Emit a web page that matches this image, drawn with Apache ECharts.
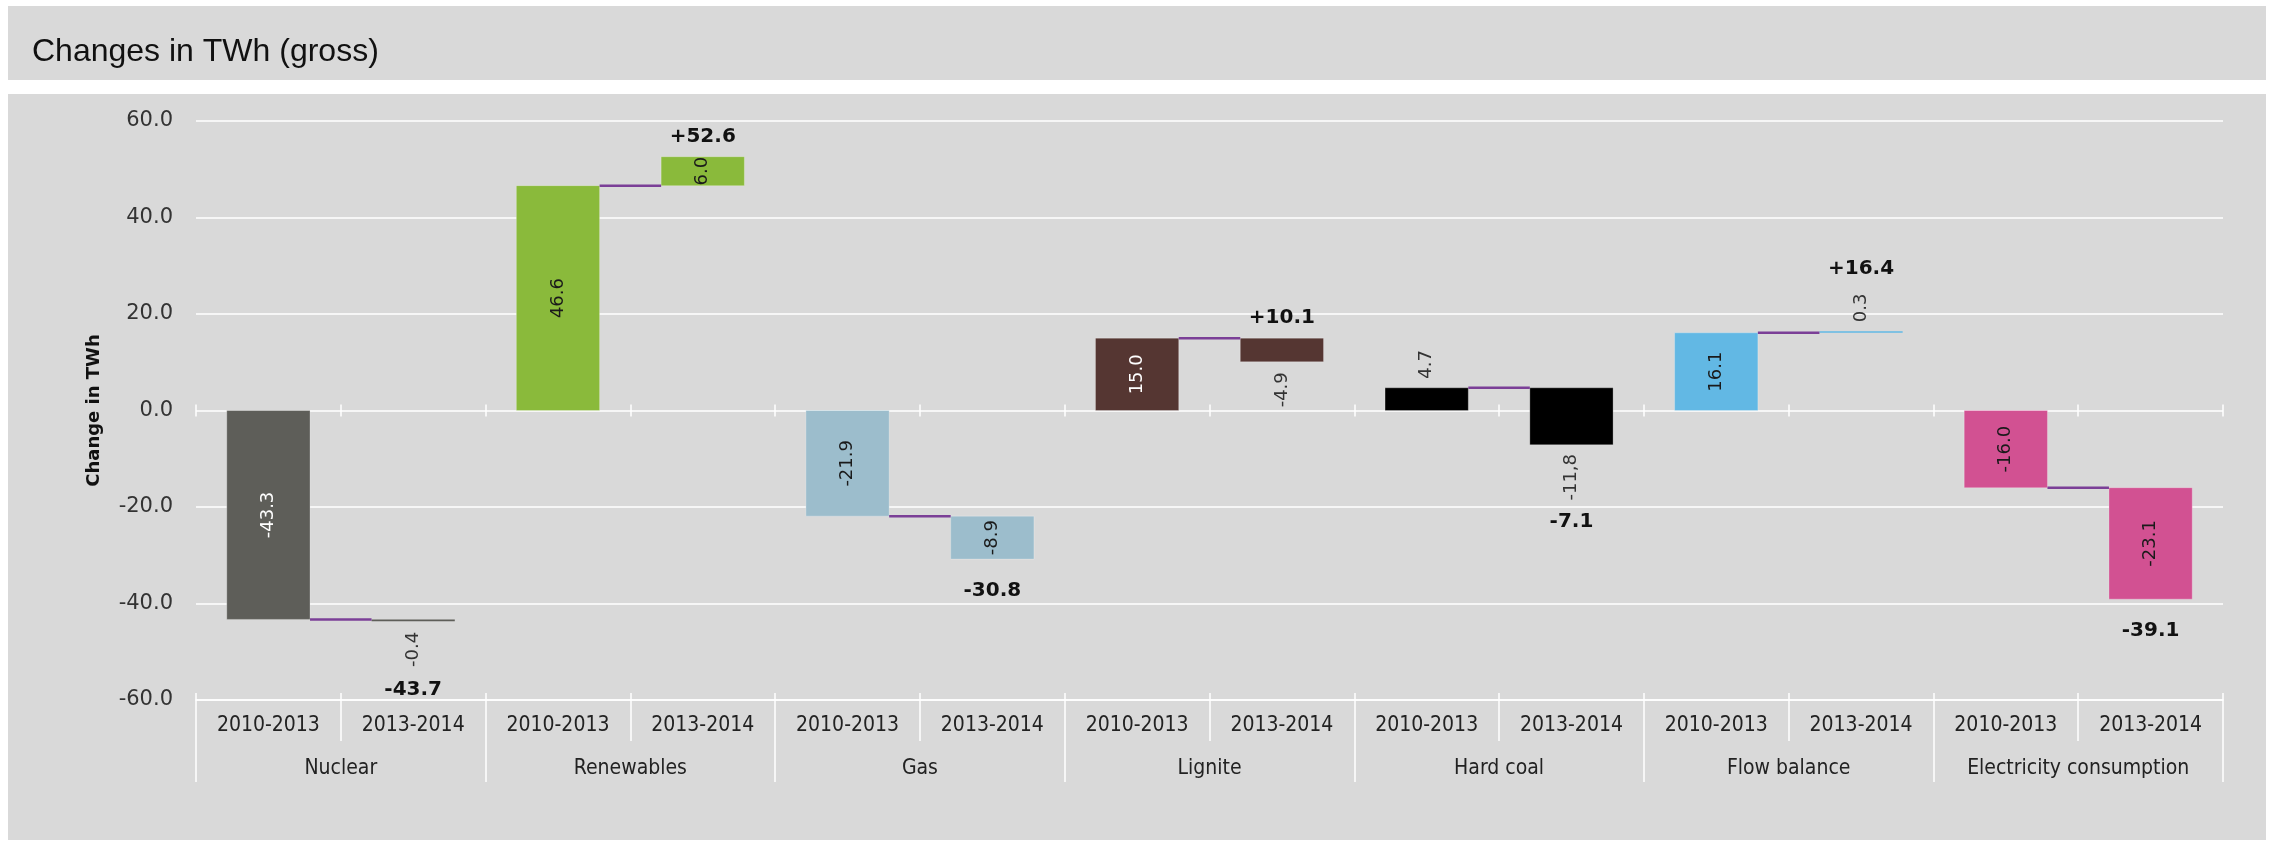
<!DOCTYPE html>
<html>
<head>
<meta charset="utf-8">
<title>Changes in TWh (gross)</title>
<script src="https://cdn.jsdelivr.net/npm/echarts@6/dist/echarts.min.js"></script>
<style>
  html, body { margin: 0; padding: 0; background: #fff; }
  #chart { width: 2277px; height: 846px; }
</style>
</head>
<body>
<div id="chart"></div>
<script>
var groups = ['Nuclear', 'Renewables', 'Gas', 'Lignite', 'Hard coal', 'Flow balance', 'Electricity consumption'];
var periods = ['2010-2013', '2013-2014'];
var change2010_2013 = [-43.3, 46.6, -21.9, 15.0, 4.7, 16.1, -16.0];
var change2013_2014 = [-0.4, 6.0, -8.9, -4.9, -11.8, 0.3, -23.1];
// labels as printed on the 2013-2014 bars (one uses a decimal comma)
var text2013_2014 = ['-0.4', '6.0', '-8.9', '-4.9', '-11,8', '0.3', '-23.1'];
var groupColors = ['#5e5e59', '#8aba3b', '#9cbdcc', '#553632', '#000000', '#62b8e4', '#d25192'];

var yMin = -60, yMax = 60, yStep = 20;

var subLabels = [];
var items = [];
groups.forEach(function (g, i) {
    var first = change2010_2013[i];
    var second = first + change2013_2014[i];
    subLabels.push(periods[0], periods[1]);
    items.push([i * 2, 0, first, i, 0]);
    items.push([i * 2 + 1, first, Math.round(second * 10) / 10, i, 1]);
});

function isDark(hex) {
    var r = parseInt(hex.substr(1, 2), 16),
        g = parseInt(hex.substr(3, 2), 16),
        b = parseInt(hex.substr(5, 2), 16);
    return (0.299 * r + 0.587 * g + 0.114 * b) < 110;
}

function renderWaterfall(params, api) {
    var idx = api.value(0),
        from = api.value(1),
        to = api.value(2),
        g = api.value(3),
        step = api.value(4);
    var a = api.coord([idx, from]),
        b = api.coord([idx, to]);
    var catW = api.size([1, 0])[0];
    var bw = catW * 0.575;
    var x = a[0] - bw / 2;
    var top = Math.min(a[1], b[1]),
        bottom = Math.max(a[1], b[1]);
    var h = Math.max(bottom - top, 1.5);
    var color = groupColors[g];
    var kids = [];

    kids.push({
        type: 'rect',
        shape: { x: x, y: top, width: bw, height: h },
        style: h > 4 ? { fill: color, stroke: 'rgba(255,255,255,0.25)', lineWidth: 1 } : { fill: color }
    });

    if (step === 1) {
        kids.push({
            type: 'line',
            shape: { x1: a[0] - catW + bw / 2, y1: a[1], x2: x, y2: a[1] },
            style: { stroke: '#7b3f97', lineWidth: 2.5 }
        });
    }

    // value label, rotated
    var txt = step === 0 ? change2010_2013[g].toFixed(1) : text2013_2014[g];
    var len = txt.length * 9;
    var inside = color !== '#000000' && (bottom - top) >= 26;
    var ly, fill = '#333';
    if (inside) {
        ly = (top + bottom) / 2;
        fill = isDark(color) ? '#ffffff' : '#1a1a1a';
    } else if (to < from) {
        ly = bottom + 10 + len / 2;
    } else {
        ly = top - 10 - len / 2;
    }
    kids.push({
        type: 'text',
        x: a[0],
        y: ly,
        rotation: Math.PI / 2,
        style: {
            text: txt,
            align: 'center',
            verticalAlign: 'middle',
            fill: fill,
            fontSize: 18,
            fontFamily: 'DejaVu Sans'
        }
    });

    // running total for the period
    if (step === 1) {
        var ttxt = (to > 0 ? '+' : '') + to.toFixed(1);
        var ty;
        if (to > 0) {
            ty = (!inside && to >= from) ? ly - len / 2 - 26 : top - 20;
        } else {
            ty = (!inside && to < from) ? ly + len / 2 + 22 : bottom + 32;
        }
        kids.push({
            type: 'text',
            x: a[0],
            y: ty,
            style: {
                text: ttxt,
                align: 'center',
                verticalAlign: 'middle',
                fill: '#111',
                fontSize: 20,
                fontWeight: 'bold',
                fontFamily: 'DejaVu Sans'
            }
        });
    }
    return { type: 'group', children: kids };
}

var white = { color: '#ffffff', width: 1.5 };
var axisFont = { fontSize: 21, fontFamily: 'DejaVu Sans Condensed', color: '#222' };

var option = {
    backgroundColor: '#d9d9d9',
    animation: false,
    graphic: [
        { type: 'rect', x: 0, y: 0, shape: { width: 2277, height: 6 }, style: { fill: '#fff' } },
        { type: 'rect', x: 0, y: 80, shape: { width: 2277, height: 14 }, style: { fill: '#fff' } },
        { type: 'rect', x: 0, y: 840, shape: { width: 2277, height: 6 }, style: { fill: '#fff' } },
        { type: 'rect', x: 0, y: 0, shape: { width: 8, height: 846 }, style: { fill: '#fff' } },
        { type: 'rect', x: 2266, y: 0, shape: { width: 11, height: 846 }, style: { fill: '#fff' } },
        {
            type: 'text', x: 32, y: 52,
            style: {
                text: 'Changes in TWh (gross)',
                verticalAlign: 'middle',
                fill: '#111',
                fontSize: 32,
                fontFamily: 'Liberation Sans'
            }
        }
    ],
    grid: { left: 196, right: 54, top: 121, bottom: 146, containLabel: false },
    yAxis: {
        type: 'value',
        min: yMin,
        max: yMax,
        interval: yStep,
        name: 'Change in TWh',
        nameLocation: 'middle',
        nameRotate: 90,
        nameGap: 93,
        nameTextStyle: { fontFamily: 'DejaVu Sans', fontSize: 18, fontWeight: 'bold', color: '#111' },
        axisLine: { show: false },
        axisTick: { show: false },
        axisLabel: {
            margin: 23,
            fontFamily: 'DejaVu Sans',
            fontSize: 21,
            color: '#333',
            formatter: function (v) { return v.toFixed(1); }
        },
        splitLine: { lineStyle: white }
    },
    xAxis: [
        {
            type: 'category', data: subLabels, position: 'bottom',
            axisLine: { show: true, onZero: false, lineStyle: white },
            axisTick: { show: true, interval: 0, length: 41, lineStyle: white },
            axisLabel: Object.assign({ interval: 0, margin: 15 }, axisFont)
        },
        {
            type: 'category', data: groups, position: 'bottom',
            axisLine: { show: false, onZero: false },
            axisTick: { show: true, interval: 0, length: 82, lineStyle: white },
            axisLabel: Object.assign({ interval: 0, margin: 58 }, axisFont)
        },
        {
            type: 'category', data: subLabels, position: 'bottom',
            axisLine: { show: false, onZero: false },
            axisTick: { show: true, interval: 0, inside: true, length: 7, lineStyle: white },
            axisLabel: { show: false }
        },
        {
            type: 'category', data: subLabels, position: 'bottom',
            axisLine: { show: false, onZero: true, onZeroAxisIndex: 0 },
            axisTick: { show: true, interval: 0, inside: true, length: 6, lineStyle: white },
            axisLabel: { show: false }
        },
        {
            type: 'category', data: subLabels, position: 'bottom',
            axisLine: { show: false, onZero: true, onZeroAxisIndex: 0 },
            axisTick: { show: true, interval: 0, length: 6, lineStyle: white },
            axisLabel: { show: false }
        }
    ],
    series: [{
        type: 'custom',
        xAxisIndex: 0,
        yAxisIndex: 0,
        renderItem: renderWaterfall,
        encode: { x: 0, y: [1, 2] },
        data: items
    }]
};

var chart = echarts.init(document.getElementById('chart'));
chart.setOption(option);
</script>
</body>
</html>
